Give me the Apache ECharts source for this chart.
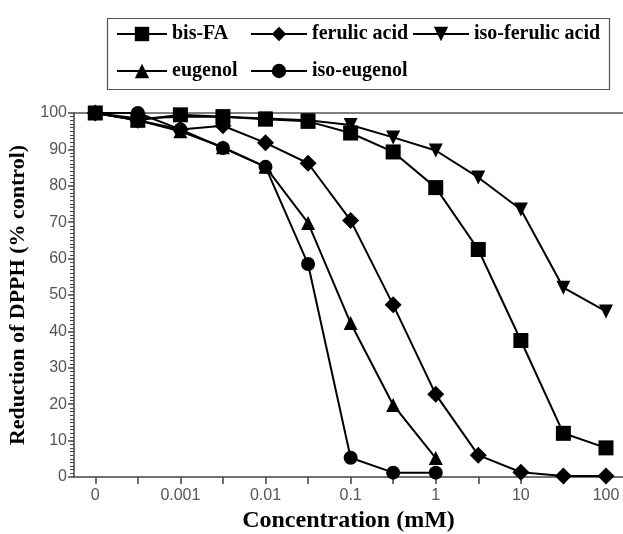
<!DOCTYPE html>
<html>
<head>
<meta charset="utf-8">
<script src="https://cdn.jsdelivr.net/npm/echarts@6/dist/echarts.min.js"></script>
<style>
html, body { margin: 0; padding: 0; background: #fff; }
#chart { width: 623px; height: 534px; }
</style>
</head>
<body>
<div id="chart"></div>
<script>
// concentration (mM); "0" control is plotted at 0.0001
var conc = [0.0001, 0.000316, 0.001, 0.00316, 0.01, 0.0316, 0.1, 0.316, 1, 3.16, 10, 31.6, 100];
var labelTicks = [0.0001, 0.001, 0.01, 0.1, 1, 10, 100];

var bisFA      = [100, 98, 99.5, 99, 98.3, 97.7, 94.5, 89.3, 79.5, 62.5, 37.5, 12, 8];
var ferulic    = [100, 98, 95.5, 96.5, 91.8, 86.2, 70.5, 47.3, 22.7, 6, 1.3, 0.3, 0.3];
var isoFerulic = [100, 98.5, 99, 99, 98.5, 98, 96.7, 93.3, 89.7, 82.3, 73.5, 52, 45.5];
var eugenol    = [100, 98, 95, 90.6, 85.2, 69.8, 42.3, 19.8, 5.2];
var isoEugenol = [100, 100, 95.5, 90.4, 85.2, 58.5, 5.3, 1.2, 1.2];

function pairs(vals) {
    var out = [];
    for (var i = 0; i < vals.length; i++) {
        out.push([conc[i], vals[i]]);
    }
    return out;
}

var serif = '"Liberation Serif", "DejaVu Serif", serif';
var sans = '"Liberation Sans", Arial, sans-serif';

function mkSeries(name, vals, symbol, size, rotate) {
    return {
        name: name,
        type: 'line',
        data: pairs(vals),
        symbol: symbol,
        symbolSize: size,
        symbolRotate: rotate || 0,
        showAllSymbol: true,
        animation: false,
        lineStyle: { color: '#000', width: 2 },
        itemStyle: { color: '#000', borderWidth: 0 }
    };
}

function mkLegend(name, left, top, w) {
    return {
        data: [name],
        left: left,
        top: top,
        orient: 'horizontal',
        itemWidth: w,
        itemHeight: 18,
        itemGap: 0,
        padding: 0,
        selectedMode: false,
        textStyle: { fontFamily: serif, fontWeight: 'bold', fontSize: 20, color: '#000' }
    };
}

var chart = echarts.init(document.getElementById('chart'));

var option = {
    animation: false,
    backgroundColor: '#fff',
    graphic: [{
        type: 'rect',
        left: 105,
        top: 16,
        shape: { width: 502, height: 71 },
        style: { fill: 'none', stroke: '#555', lineWidth: 1.2 },
        z: 0
    }],
    legend: [
        mkLegend('bis-FA', 116, 24, 50),
        mkLegend('ferulic acid', 250, 24, 56),
        mkLegend('iso-ferulic acid', 412, 24, 56),
        mkLegend('eugenol', 116, 61, 50),
        mkLegend('iso-eugenol', 250, 61, 56)
    ],
    grid: {
        left: 74,
        right: 0,
        top: 113,
        bottom: 57,
        containLabel: false,
        outerBoundsMode: 'none'
    },
    xAxis: [{
        type: 'log',
        logBase: 10,
        min: Math.pow(10, -4.25),
        max: Math.pow(10, 2.2),
        name: 'Concentration (mM)',
        nameLocation: 'middle',
        nameGap: 31,
        nameTextStyle: { fontFamily: serif, fontWeight: 'bold', fontSize: 24, color: '#000' },
        axisLine: { show: true, lineStyle: { color: '#444', width: 1.5 } },
        axisTick: {
            show: true,
            length: 7,
            lineStyle: { color: '#444', width: 1.5 },
            customValues: conc
        },
        axisLabel: {
            show: true,
            customValues: labelTicks,
            margin: 11,
            fontFamily: sans,
            fontSize: 16,
            color: '#555',
            formatter: function (v) {
                if (Math.abs(v - 0.0001) < 1e-9) return '0';
                return String(+v.toPrecision(3));
            }
        },
        splitLine: { show: false },
        minorTick: { show: false },
        minorSplitLine: { show: false }
    }, {
        type: 'log',
        logBase: 10,
        position: 'top',
        min: Math.pow(10, -4.25),
        max: Math.pow(10, 2.2),
        axisLine: { show: true, lineStyle: { color: '#555', width: 1.5 } },
        axisTick: { show: false },
        axisLabel: { show: false },
        splitLine: { show: false }
    }],
    yAxis: {
        type: 'value',
        min: 0,
        max: 100,
        interval: 10,
        name: 'Reduction of DPPH (% control)',
        nameLocation: 'middle',
        nameGap: 40,
        nameTextStyle: { fontFamily: serif, fontWeight: 'bold', fontSize: 22, color: '#000' },
        axisLine: { show: true, lineStyle: { color: '#444', width: 1.5 } },
        axisTick: { show: true, length: 6, lineStyle: { color: '#444', width: 1.5 } },
        minorTick: { show: true, splitNumber: 10, length: 4, lineStyle: { color: '#444', width: 1 } },
        axisLabel: { fontFamily: sans, fontSize: 16, color: '#555', margin: 7 },
        splitLine: { show: false }
    },
    series: [
        mkSeries('eugenol', eugenol, 'triangle', 14),
        mkSeries('iso-eugenol', isoEugenol, 'circle', 14),
        mkSeries('ferulic acid', ferulic, 'diamond', 17),
        mkSeries('iso-ferulic acid', isoFerulic, 'triangle', 14, 180),
        mkSeries('bis-FA', bisFA, 'rect', 15)
    ]
};

chart.setOption(option);
</script>
</body>
</html>
